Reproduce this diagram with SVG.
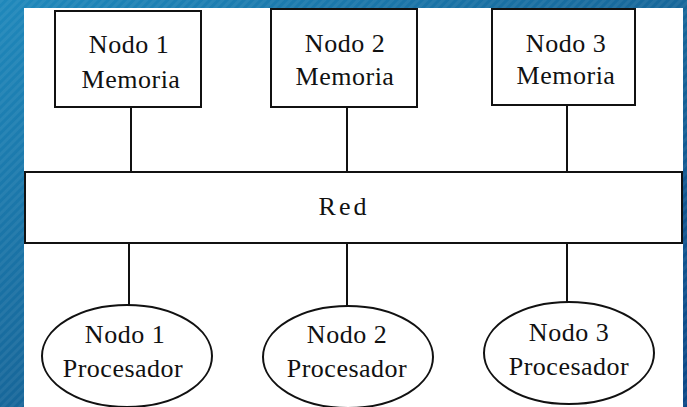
<svg xmlns="http://www.w3.org/2000/svg" width="687" height="407" viewBox="0 0 687 407">
<defs>
<linearGradient id="bg" x1="0" y1="0" x2="1" y2="1">
<stop offset="0" stop-color="#1f88bb"/>
<stop offset="0.5" stop-color="#17679a"/>
<stop offset="1" stop-color="#0c4686"/>
</linearGradient>
<pattern id="stripes" width="6" height="6" patternUnits="userSpaceOnUse" patternTransform="rotate(-45)">
<rect width="6" height="3" fill="#ffffff" fill-opacity="0.06"/>
</pattern>
<style>
.n{fill:#fff;stroke:#111;stroke-width:2}
.t{font-family:"Liberation Serif","Times New Roman",serif;font-size:26px;fill:#111;text-anchor:middle;letter-spacing:0.5px}
.c{stroke:#111;stroke-width:2;fill:none}
</style>
</defs>
<rect width="687" height="407" fill="url(#bg)"/>
<rect width="687" height="407" fill="url(#stripes)"/>
<rect x="24" y="8" width="659" height="399" fill="#fff"/>
<g id="connectors">
<line class="c" x1="131" y1="107" x2="131" y2="172"/>
<line class="c" x1="347" y1="107" x2="347" y2="172"/>
<line class="c" x1="567" y1="105" x2="567" y2="172"/>
<line class="c" x1="129" y1="243" x2="129" y2="305"/>
<line class="c" x1="347" y1="243" x2="347" y2="306"/>
<line class="c" x1="567" y1="243" x2="567" y2="302"/>
</g>
<g id="mem1">
<rect class="n" x="55" y="11" width="146" height="96"/>
<text class="t" x="129" y="53">Nodo 1</text>
<text class="t" x="131" y="88">Memoria</text>
</g>
<g id="mem2">
<rect class="n" x="271" y="9" width="146" height="98"/>
<text class="t" x="345" y="52">Nodo 2</text>
<text class="t" x="345" y="85">Memoria</text>
</g>
<g id="mem3">
<rect class="n" x="492" y="9" width="143" height="96"/>
<text class="t" x="566" y="52">Nodo 3</text>
<text class="t" x="566" y="84">Memoria</text>
</g>
<g id="red">
<rect class="n" x="25" y="172" width="657" height="71"/>
<text class="t" x="344" y="215" style="letter-spacing:3px">Red</text>
</g>
<g id="proc1">
<ellipse class="n" cx="127" cy="356" rx="85" ry="51"/>
<text class="t" x="125" y="343">Nodo 1</text>
<text class="t" x="123" y="377">Procesador</text>
</g>
<g id="proc2">
<ellipse class="n" cx="348" cy="357" rx="85" ry="51"/>
<text class="t" x="347" y="343">Nodo 2</text>
<text class="t" x="347" y="377">Procesador</text>
</g>
<g id="proc3">
<ellipse class="n" cx="569" cy="353" rx="85" ry="51"/>
<text class="t" x="569" y="341">Nodo 3</text>
<text class="t" x="569" y="375">Procesador</text>
</g>
</svg>
